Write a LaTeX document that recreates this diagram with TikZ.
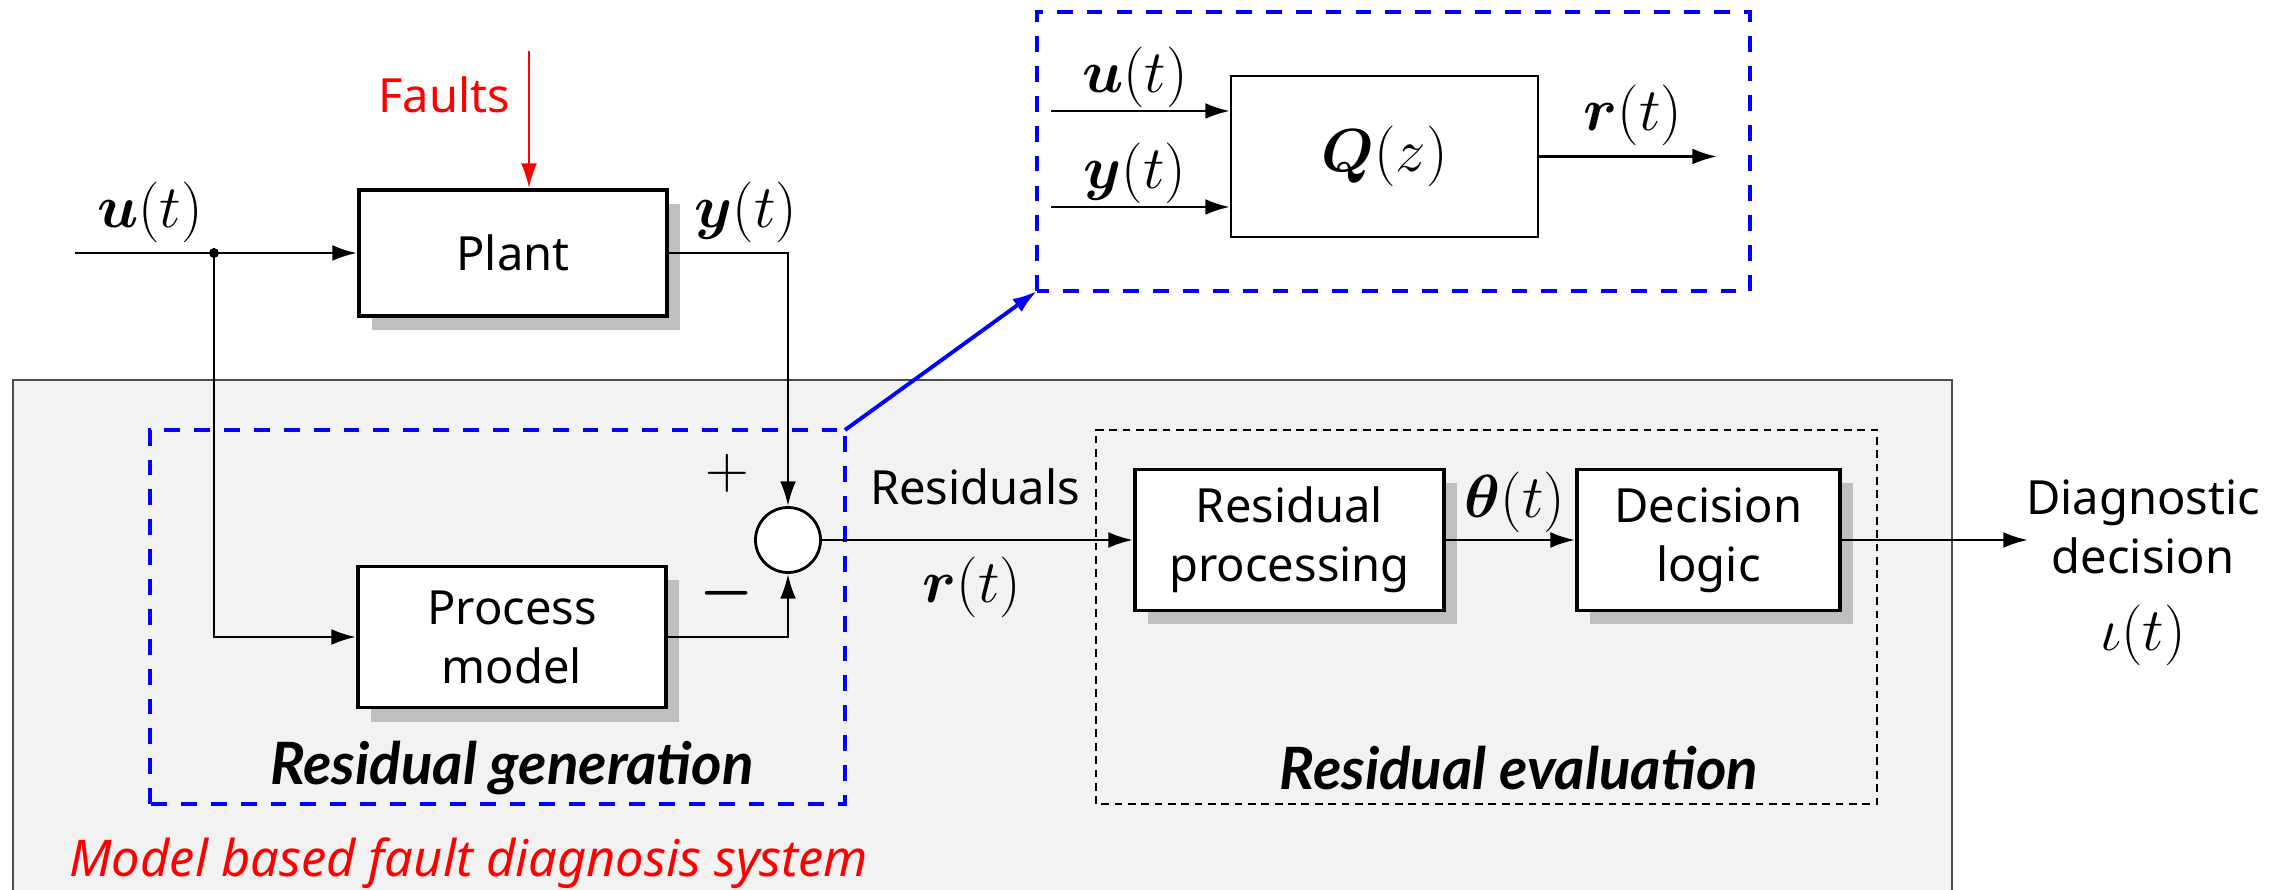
\documentclass[tikz,border=0pt]{standalone}
\usepackage{fontspec}
\setmainfont{Noto Sans}
\newfontfamily\grpfont{Lato}
\usepackage{amsmath}
\usetikzlibrary{arrows.meta,shadows}

\begin{document}
\begin{tikzpicture}[>={Latex[length=7pt,width=4.5pt]}, line width=.8pt,
  font=\fontsize{13.4}{16.8}\selectfont,
  blk/.style={draw, line width=1.1pt, fill=white, align=center, inner sep=0pt,
    minimum width=#1, minimum height=1.41cm,
    drop shadow={shadow xshift=.13cm, shadow yshift=-.14cm, fill=black!25, opacity=1}},
  bluebox/.style={draw=blue, line width=1.3pt, dash pattern=on 4.5pt off 4pt},
  grp/.style={font=\fontsize{16.6}{18}\selectfont\grpfont\bfseries\itshape},
  lbl/.style={inner sep=1pt},
  mth/.style={inner sep=1pt, font=\fontsize{16}{18}\selectfont}]

\useasboundingbox (0,0) rectangle (22.87,8.89);

% diagnosis system background
\fill [black!5] (0.13,-0.2) rectangle (19.52,5.09);
\draw [black!70, line width=.6pt] (0.13,-0.2) |- (19.52,5.09) -- (19.52,-0.2);
\node [red, anchor=west, inner sep=0pt, font=\fontsize{14.4}{16}\selectfont\itshape] (sysname) at (0.68,0.26)
  {Model based fault diagnosis system};

% dashed frames
\coordinate (genbl) at (1.50,0.85);
\coordinate (gentr) at (8.45,4.59);
\draw [bluebox] (genbl) rectangle (gentr);
\draw [dash pattern=on 2.2pt off 1.6pt, line width=.5pt] (10.96,0.85) rectangle (18.77,4.59);
\node [grp] (genname) at (5.12,1.21) {Residual generation};
\node [grp] (evalname) at (15.19,1.21) {Residual evaluation};

% plant and model
\node [blk=3.08cm, minimum height=1.26cm] (plant) at (5.13,6.36) {Plant};
\node [blk=3.08cm] (model) at (5.12,2.52) {Process\\model};
\node [draw, circle, fill=white, minimum size=.65cm, inner sep=0pt] (sum) at (7.88,3.49) {};
\node [lbl, font=\fontsize{17}{20}\selectfont] (plus) at (7.27,4.16) {$+$};
\node [lbl, font=\fontsize{17}{20}\selectfont] (minus) at (7.27,2.96) {$\boldsymbol{-}$};

\coordinate (in) at (0.75,6.36);
\coordinate (split) at (2.14,6.36);
\draw (in) -- (split);
\draw [->] (split) -- (plant.west);
\fill (split) circle (.05);
\draw [->] (split) |- (model.west);
\draw [->] (plant.east) -| (sum.north);
\draw [->] (model.east) -| (sum.south);
\node [mth] (ulbl) at (1.50,6.77) {$\boldsymbol{u}(t)$};
\node [mth] (ylbl) at (7.46,6.77) {$\boldsymbol{y}(t)$};

\coordinate (faultsrc) at (5.29,8.38);
\draw [red, ->, line width=.6pt] (faultsrc) -- (faultsrc |- plant.north);
\node [red, lbl, anchor=east] (faults) at (5.15,7.94) {Faults};

% evaluation chain
\node [blk=3.09cm] (rproc) at (12.895,3.49) {Residual\\processing};
\node [blk=2.63cm] (dlogic) at (17.085,3.49) {Decision\\logic};
\coordinate (out) at (20.28,3.49);
\draw [->] (sum.east) -- (rproc.west);
\draw [->] (rproc.east) -- (dlogic.west);
\draw [->] (dlogic.east) -- (out);
\node [lbl] (reslbl) at (9.75,4.02) {Residuals};
\node [mth] (rlbl) at (9.72,3.02) {$\boldsymbol{r}(t)$};
\node [mth] (thlbl) at (15.15,3.87) {$\boldsymbol{\theta}(t)$};
\node [align=center, lbl] (diag) at (21.43,3.62) {Diagnostic\\decision};
\node [mth] (iota) at (21.43,2.54) {$\iota(t)$};

% residual generator detail
\coordinate (zoombl) at (10.37,5.98);
\coordinate (zoomtr) at (17.50,8.77);
\draw [bluebox] (zoombl) rectangle (zoomtr);
\draw [blue, ->, line width=1.1pt] (gentr) -- (zoombl);
\node [draw, line width=.6pt, minimum width=3.07cm, minimum height=1.61cm, mth] (qbox) at (13.845,7.325)
  {$\boldsymbol{Q}(z)$};
\coordinate (qu) at (10.51,7.78);
\coordinate (qy) at (10.51,6.82);
\coordinate (qr) at (17.17,7.325);
\draw [->] (qu) -- (qu -| qbox.west);
\draw [->] (qy) -- (qy -| qbox.west);
\draw [->] (qbox.east) -- (qr);
\node [mth] (qulbl) at (11.35,8.12) {$\boldsymbol{u}(t)$};
\node [mth] (qylbl) at (11.35,7.16) {$\boldsymbol{y}(t)$};
\node [mth] (qrlbl) at (16.33,7.74) {$\boldsymbol{r}(t)$};
\end{tikzpicture}
\end{document}
